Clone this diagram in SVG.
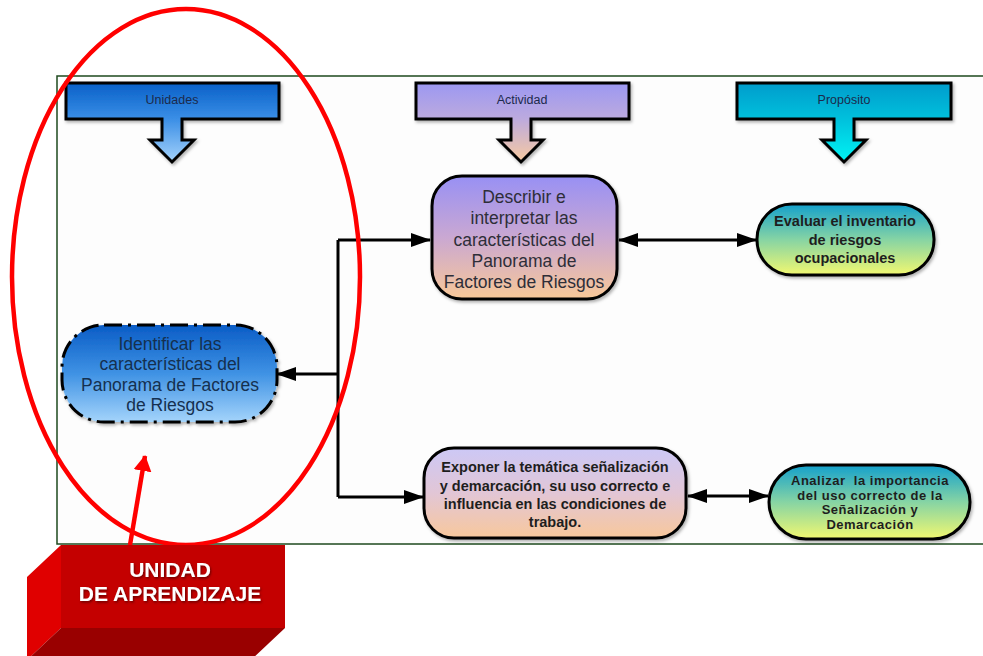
<svg xmlns="http://www.w3.org/2000/svg" width="983" height="656" viewBox="0 0 983 656">
  <defs>
    <linearGradient id="gUnid" x1="0" y1="0" x2="0" y2="1">
      <stop offset="0" stop-color="#0860c8"/>
      <stop offset="0.45" stop-color="#3a8ee6"/>
      <stop offset="1" stop-color="#a4d2fb"/>
    </linearGradient>
    <linearGradient id="gAct" x1="0" y1="0" x2="0" y2="1">
      <stop offset="0" stop-color="#9c98f2"/>
      <stop offset="0.45" stop-color="#bcaade"/>
      <stop offset="1" stop-color="#f8caa0"/>
    </linearGradient>
    <linearGradient id="gProp" x1="0" y1="0" x2="0" y2="1">
      <stop offset="0" stop-color="#009ccc"/>
      <stop offset="0.45" stop-color="#00c0dc"/>
      <stop offset="1" stop-color="#00f4f4"/>
    </linearGradient>
    <linearGradient id="gPurplePeach" x1="0" y1="0" x2="0" y2="1">
      <stop offset="0" stop-color="#9890f4"/>
      <stop offset="0.5" stop-color="#caa8d2"/>
      <stop offset="1" stop-color="#f8c898"/>
    </linearGradient>
    <linearGradient id="gLilacPeach" x1="0" y1="0" x2="0" y2="1">
      <stop offset="0" stop-color="#ccc8f6"/>
      <stop offset="0.5" stop-color="#e2c6d6"/>
      <stop offset="1" stop-color="#f8c89c"/>
    </linearGradient>
    <linearGradient id="gTealYellow" x1="0" y1="0" x2="0" y2="1">
      <stop offset="0" stop-color="#14a0cc"/>
      <stop offset="0.5" stop-color="#86d4a4"/>
      <stop offset="1" stop-color="#f2f870"/>
    </linearGradient>
    <linearGradient id="gBlue" x1="0" y1="0" x2="0" y2="1">
      <stop offset="0" stop-color="#0a5cc6"/>
      <stop offset="0.5" stop-color="#3f92e4"/>
      <stop offset="1" stop-color="#a4d4fb"/>
    </linearGradient>
    <filter id="shadow" x="-10%" y="-10%" width="120%" height="130%">
      <feDropShadow dx="1.5" dy="2" stdDeviation="1.5" flood-color="#000" flood-opacity="0.3"/>
    </filter>
    <filter id="textShadow" x="-10%" y="-20%" width="120%" height="150%">
      <feDropShadow dx="1" dy="1.5" stdDeviation="0.8" flood-color="#400" flood-opacity="0.7"/>
    </filter>
    <marker id="arrow" viewBox="0 0 20 14" refX="19" refY="7" markerWidth="20" markerHeight="14" markerUnits="userSpaceOnUse" orient="auto-start-reverse">
      <path d="M0,0 L20,7 L0,14 Z" fill="#000"/>
    </marker>
    <marker id="redArrow" viewBox="0 0 16 18" refX="15" refY="9" markerWidth="16" markerHeight="18" markerUnits="userSpaceOnUse" orient="auto">
      <path d="M0,0 L16,9 L0,18 Z" fill="#ff0000"/>
    </marker>
  </defs>
  <style>
    .frame { fill: #fdfdfd; stroke: #1e4a1e; stroke-width: 1.5; }
    .hdr { stroke: #000; stroke-width: 3; stroke-linejoin: miter; filter: url(#shadow); }
    .hdrText { font-family: "Liberation Sans", Arial, sans-serif; font-size: 12.5px; fill: #1c2a4c; text-anchor: middle; }
    .node { stroke: #000; stroke-width: 3; filter: url(#shadow); }
    .dashed { stroke-dasharray: 18 6 3 6; }
    .txt { font-family: "Liberation Sans", Arial, sans-serif; font-size: 17.5px; fill: #2e2e38; text-anchor: middle; }
    .txtBlue { font-family: "Liberation Sans", Arial, sans-serif; font-size: 17.5px; fill: #15304f; text-anchor: middle; }
    .bold { font-family: "Liberation Sans", Arial, sans-serif; font-size: 14.5px; font-weight: bold; fill: #1e1e1e; text-anchor: middle; }
    .boldSm { font-family: "Liberation Sans", Arial, sans-serif; font-size: 13px; letter-spacing: 0.5px; font-weight: bold; fill: #1e1e1e; text-anchor: middle; white-space: pre; }
    .conn { fill: none; stroke: #000; stroke-width: 3; }
    .redStroke { fill: none; stroke: #ff0000; stroke-width: 4.5; }
    .boxText { font-family: "Liberation Sans", Arial, sans-serif; font-size: 21px; font-weight: bold; fill: #fff; text-anchor: middle; filter: url(#textShadow); }
  </style>

  <rect width="983" height="656" fill="#ffffff"/>

  <!-- frame around the chart -->
  <rect class="frame" x="57" y="76" width="940" height="468"/>

  <!-- column headers -->
  <g id="hdr-unidades">
    <path class="hdr" fill="url(#gUnid)" d="M66,83 H279 V119 H182 V140 H194 L172,162 L150,140 H162 V119 H66 Z"/>
    <text class="hdrText" x="172" y="104">Unidades</text>
  </g>
  <g id="hdr-actividad">
    <path class="hdr" fill="url(#gAct)" d="M416,83 H629 V119 H531 V140 H543 L521,162 L499,140 H511 V119 H416 Z"/>
    <text class="hdrText" x="522" y="104">Actividad</text>
  </g>
  <g id="hdr-proposito">
    <path class="hdr" fill="url(#gProp)" d="M737,83 H951 V119 H854 V140 H866 L844,162 L822,140 H834 V119 H737 Z"/>
    <text class="hdrText" x="844" y="104">Propósito</text>
  </g>

  <!-- connectors -->
  <g id="connectors">
    <path class="conn" d="M338,240 V497"/>
    <path class="conn" d="M338,240 H430" marker-end="url(#arrow)"/>
    <path class="conn" d="M338,374 H277" marker-end="url(#arrow)"/>
    <path class="conn" d="M338,497 H423" marker-end="url(#arrow)"/>
    <path class="conn" d="M619,240 H756" marker-start="url(#arrow)" marker-end="url(#arrow)"/>
    <path class="conn" d="M688,496 H768" marker-start="url(#arrow)" marker-end="url(#arrow)"/>
  </g>

  <!-- nodes -->
  <g id="node-identificar">
    <rect class="node dashed" fill="url(#gBlue)" x="62" y="325" width="215" height="97" rx="42" ry="42"/>
    <text class="txtBlue" x="170" y="350">Identificar las</text>
    <text class="txtBlue" x="170" y="370">características del</text>
    <text class="txtBlue" x="170" y="391">Panorama de Factores</text>
    <text class="txtBlue" x="170" y="411">de Riesgos</text>
  </g>

  <g id="node-describir">
    <rect class="node" fill="url(#gPurplePeach)" x="432" y="176" width="185" height="123" rx="30" ry="30"/>
    <text class="txt" x="524" y="203">Describir e</text>
    <text class="txt" x="524" y="224">interpretar las</text>
    <text class="txt" x="524" y="246">características del</text>
    <text class="txt" x="524" y="267">Panorama de</text>
    <text class="txt" x="524" y="288">Factores de Riesgos</text>
  </g>

  <g id="node-evaluar">
    <rect class="node" fill="url(#gTealYellow)" x="757" y="204" width="177" height="71" rx="35" ry="35"/>
    <text class="bold" x="845" y="226">Evaluar el inventario</text>
    <text class="bold" x="845" y="245">de riesgos</text>
    <text class="bold" x="845" y="263">ocupacionales</text>
  </g>

  <g id="node-exponer">
    <rect class="node" fill="url(#gLilacPeach)" x="424" y="448" width="262" height="90" rx="30" ry="30"/>
    <text class="bold" x="555" y="472">Exponer la temática señalización</text>
    <text class="bold" x="555" y="491">y demarcación, su uso correcto e</text>
    <text class="bold" x="555" y="509">influencia en las condiciones de</text>
    <text class="bold" x="555" y="527">trabajo.</text>
  </g>

  <g id="node-analizar">
    <rect class="node" fill="url(#gTealYellow)" x="769" y="465" width="201" height="74" rx="37" ry="37"/>
    <text class="boldSm" x="870" y="485">Analizar  la importancia</text>
    <text class="boldSm" x="870" y="499.5">del uso correcto de la</text>
    <text class="boldSm" x="870" y="514">Señalización y</text>
    <text class="boldSm" x="870" y="528.5">Demarcación</text>
  </g>

  <!-- red highlight ellipse and pointer -->
  <ellipse class="redStroke" cx="186" cy="277" rx="174" ry="268"/>
  <path class="redStroke" d="M130,545 L145,456" marker-end="url(#redArrow)"/>

  <!-- 3D label block -->
  <g id="label-unidad">
    <polygon points="61,545 61,628 27,660 27,577" fill="#e00000"/>
    <polygon points="61,628 285,628 251,660 27,660" fill="#990000"/>
    <rect x="61" y="545" width="224" height="83" fill="#c40000"/>
    <text class="boxText" x="170" y="577">UNIDAD</text>
    <text class="boxText" x="170" y="601">DE APRENDIZAJE</text>
  </g>
</svg>
